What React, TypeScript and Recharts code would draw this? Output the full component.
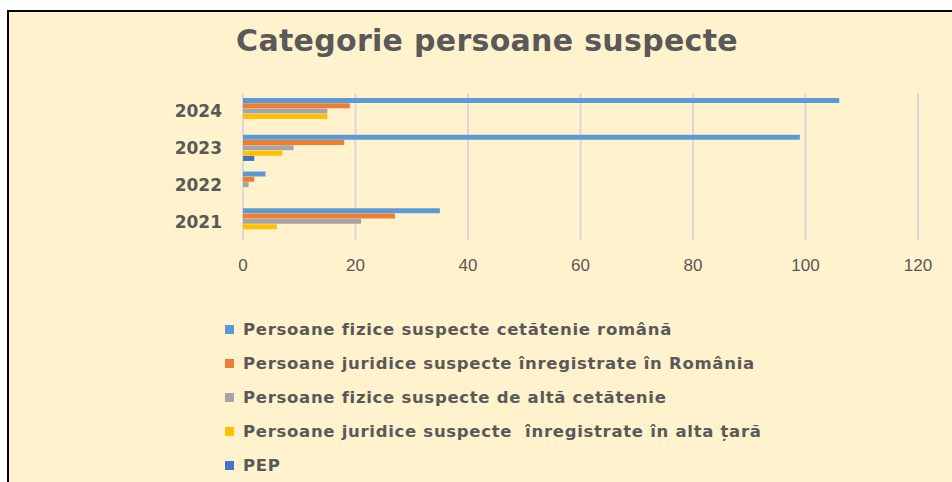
import React from 'react';
import { BarChart, Bar, XAxis, YAxis, CartesianGrid, Legend } from 'recharts';

// Years, top to bottom as drawn
const years = ['2024', '2023', '2022', '2021'];

// Series values, same order as years
const fiziceRomana = [106, 99, 4, 35];
const juridiceRomania = [19, 18, 2, 27];
const fiziceAltaCetatenie = [15, 9, 1, 21];
const juridiceAltaTara = [15, 7, 0, 6];
const pepValues = [0, 2, 0, 0];

const xTicks = [0, 20, 40, 60, 80, 100, 120];

const seriesNames = [
  'Persoane fizice suspecte cetătenie română',
  'Persoane juridice suspecte înregistrate în România',
  'Persoane fizice suspecte de altă cetătenie',
  'Persoane juridice suspecte  înregistrate în alta țară',
  'PEP',
];
const seriesColors = ['#5B9BD5', '#ED7D31', '#A5A5A5', '#FFC000', '#4472C4'];

const data = years.map((year, i) => ({
  year,
  s0: fiziceRomana[i],
  s1: juridiceRomania[i],
  s2: fiziceAltaCetatenie[i],
  s3: juridiceAltaTara[i],
  s4: pepValues[i],
}));

const textColor = '#595959';
const fontFamily = '"DejaVu Sans", sans-serif';

const renderLegend = (props: any) => {
  const { payload } = props;
  return (
    <div style={{ height: 160, fontFamily }}>
      {(payload || []).map((entry: any) => (
        <div
          key={entry.value}
          style={{ display: 'flex', alignItems: 'center', height: 34 }}
        >
          <span
            style={{
              width: 9,
              height: 9,
              background: entry.color,
              marginRight: 9,
              flex: 'none',
            }}
          />
          <span
            style={{
              fontSize: 16.5,
              fontWeight: 'bold',
              letterSpacing: 0.7,
              color: textColor,
              whiteSpace: 'pre',
            }}
          >
            {entry.value}
          </span>
        </div>
      ))}
    </div>
  );
};

export default function App() {
  return (
    <div
      style={{
        position: 'absolute',
        left: 0,
        top: 0,
        width: 952,
        height: 482,
        background: '#ffffff',
        overflow: 'hidden',
      }}
    >
      {/* Frame */}
      <div
        style={{
          position: 'absolute',
          left: 7,
          top: 10,
          width: 980,
          height: 500,
          borderLeft: '2.5px solid #000',
          borderTop: '2.5px solid #000',
          background: '#FFF2CC',
        }}
      />

      {/* Title */}
      <div
        style={{
          position: 'absolute',
          left: 0,
          width: 974,
          top: 23,
          textAlign: 'center',
          fontFamily,
          fontWeight: 'bold',
          fontSize: 30,
          letterSpacing: 0.3,
          color: textColor,
        }}
      >
        Categorie persoane suspecte
      </div>

      <div style={{ position: 'absolute', left: 0, top: 0 }}>
        <BarChart
          width={952}
          height={482}
          data={data}
          layout="vertical"
          margin={{ top: 93, right: 34, bottom: 52, left: 163 }}
          barSize={5}
          barGap={0.3}
        >
          <CartesianGrid
            horizontal={false}
            stroke="#D9D9D9"
            strokeWidth={2}
          />
          <XAxis
            type="number"
            domain={[0, 120]}
            ticks={xTicks}
            axisLine={false}
            tickLine={false}
            tickMargin={13}
            interval={0}
            tick={{ fill: textColor, fontSize: 17, fontFamily: '"Liberation Sans", sans-serif' }}
          />
          <YAxis
            type="category"
            dataKey="year"
            width={80}
            axisLine={false}
            tickLine={false}
            tickMargin={15}
            tick={{ fill: textColor, fontSize: 17, fontWeight: 'bold', fontFamily }}
          />
          <Legend
            content={renderLegend}
            layout="vertical"
            verticalAlign="bottom"
            align="center"
            itemSorter="dataKey"
            wrapperStyle={{ left: 225, top: 312, width: 640 }}
          />
          {seriesNames.map((name, i) => (
            <Bar
              key={name}
              dataKey={`s${i}`}
              name={name}
              fill={seriesColors[i]}
              isAnimationActive={false}
            />
          ))}
        </BarChart>
      </div>
    </div>
  );
}
